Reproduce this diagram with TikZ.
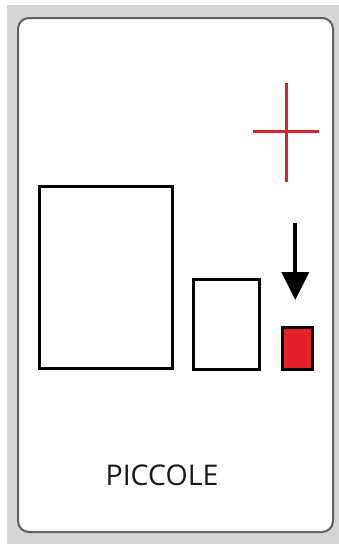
\documentclass[tikz,border=0pt]{standalone}
\usepackage{fontspec}
\setmainfont{Open Sans}
\usetikzlibrary{arrows.meta}
\definecolor{bggray}{RGB}{212,212,212}
\definecolor{cardedge}{RGB}{95,95,95}
\definecolor{crossred}{RGB}{212,35,45}
\definecolor{boxred}{RGB}{232,32,40}
\tikzset{
  frame/.style={draw=black,line width=3pt},
  crossline/.style={draw=crossred,line width=3pt},
}
\begin{document}
\begin{tikzpicture}[x=1pt,y=-1pt]
\useasboundingbox (0,0) rectangle (339,544);
\fill[white] (0,0) rectangle (339,544);
\fill[bggray] (7,5) rectangle (339,544);
\draw[cardedge,fill=white,line width=2pt,rounded corners=11pt] (18,18) rectangle (333,532);
% boxes
\node[frame,minimum width=133pt,minimum height=182pt,inner sep=0pt,anchor=north west] (big) at (38,185) {};
\node[frame,minimum width=66pt,minimum height=90pt,inner sep=0pt,anchor=north west] (small) at (191.5,277.5) {};
\node[frame,fill=boxred,minimum width=30.5pt,minimum height=42.5pt,inner sep=0pt,anchor=north west] (red) at (280.5,325.5) {};
% arrow
\coordinate (astart) at (295.3,223);
\coordinate (aend) at (295.3,300);
\draw[line width=4pt,-{Triangle[width=27pt,length=28pt]}] (astart) -- (aend);
% cross
\coordinate (ctop) at (286.7,83);
\coordinate (cbot) at (286.7,182);
\coordinate (cleft) at (253,131.7);
\coordinate (cright) at (319,131.7);
\draw[crossline] (ctop) -- (cbot);
\draw[crossline] (cleft) -- (cright);
% label
\node[font=\fontsize{28.5}{30}\selectfont,anchor=base,inner sep=0pt,text=black!90] (lbl) at (162,485) {PICCOLE};
\end{tikzpicture}
\end{document}
